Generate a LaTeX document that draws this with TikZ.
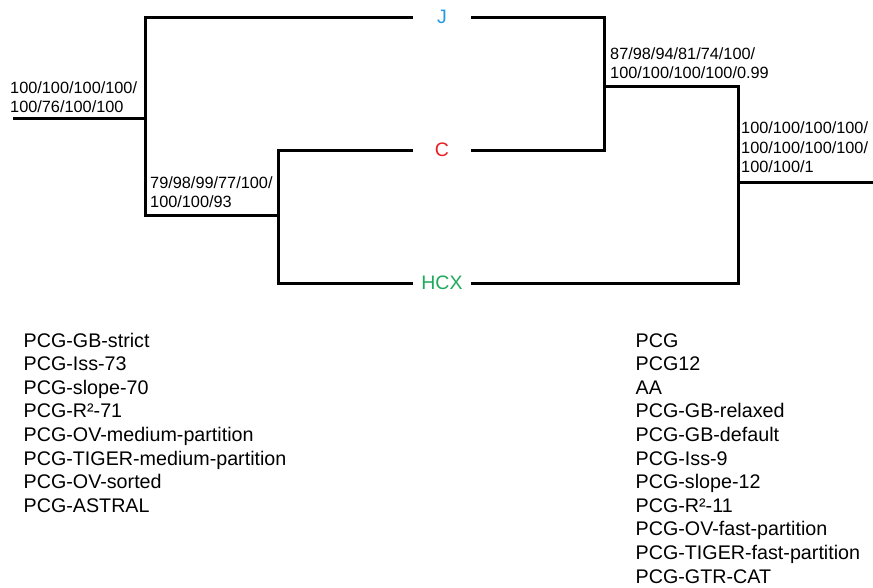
\documentclass[tikz,border=0pt]{standalone}
\usepackage{fontspec}
\setmainfont{Liberation Sans}
\definecolor{jblue}{RGB}{35,155,230}
\definecolor{cred}{RGB}{235,30,35}
\definecolor{hgreen}{RGB}{30,170,90}

\begin{document}
\begin{tikzpicture}[x=1pt, y=-1pt,
    branch/.style={line width=3pt, line cap=butt},
    leaf/.style={minimum width=58pt, inner sep=0pt, font=\fontsize{19.5}{23.6}\selectfont},
    support/.style={anchor=south west, inner sep=0pt, align=left, font=\fontsize{16.3}{19.6}\selectfont},
    method/.style={anchor=base west, inner sep=0pt, font=\fontsize{19.7}{23.6}\selectfont}]
    \useasboundingbox (0,0) rectangle (873,587);

    % leaves, shared by both trees
    \node[leaf, text=jblue] (J) at (442,17) {J};
    \node[leaf, text=cred] (C) at (442,150) {C};
    \node[leaf, text=hgreen] (HCX) at (442,283) {HCX};

    % left tree: (J,(C,HCX))
    \coordinate (lroot) at (13,118);
    \coordinate (l1) at (145,118);
    \coordinate (l2) at (278,215);
    \draw[branch] (lroot) -- (l1);
    \draw[branch] (l1) |- (J.west);
    \draw[branch] (l1) |- (l2);
    \draw[branch] (l2) |- (C.west);
    \draw[branch] (l2) |- (HCX.west);
    \node[support] (bs-l1) at (10,113) {100/100/100/100/\\100/76/100/100};
    \node[support] (bs-l2) at (150,208) {79/98/99/77/100/\\100/100/93};

    % right tree: ((J,C),HCX)
    \coordinate (r1) at (604,86);
    \coordinate (r2) at (738,182);
    \coordinate (rroot) at (873,182);
    \draw[branch] (J.east) -| (r1);
    \draw[branch] (C.east) -| (r1);
    \draw[branch] (r1) -| (r2);
    \draw[branch] (HCX.east) -| (r2);
    \draw[branch] (r2) -- (rroot);
    \node[support] (bs-r1) at (610,79) {87/98/94/81/74/100/\\100/100/100/100/0.99};
    \node[support] (bs-r2) at (741,173) {100/100/100/100/\\100/100/100/100/\\100/100/1};

    % methods giving each topology
    \foreach \m [count=\i from 0] in {PCG-GB-strict, PCG-Iss-73, PCG-slope-70, PCG-R²-71,
        PCG-OV-medium-partition, PCG-TIGER-medium-partition, PCG-OV-sorted, PCG-ASTRAL}
        \node[method] (topoA-\i) at (23.5,347+23.6*\i) {\m};
    \foreach \m [count=\i from 0] in {PCG, PCG12, AA, PCG-GB-relaxed, PCG-GB-default,
        PCG-Iss-9, PCG-slope-12, PCG-R²-11, PCG-OV-fast-partition,
        PCG-TIGER-fast-partition, PCG-GTR-CAT}
        \node[method] (topoB-\i) at (635.5,347+23.6*\i) {\m};
\end{tikzpicture}
\end{document}
